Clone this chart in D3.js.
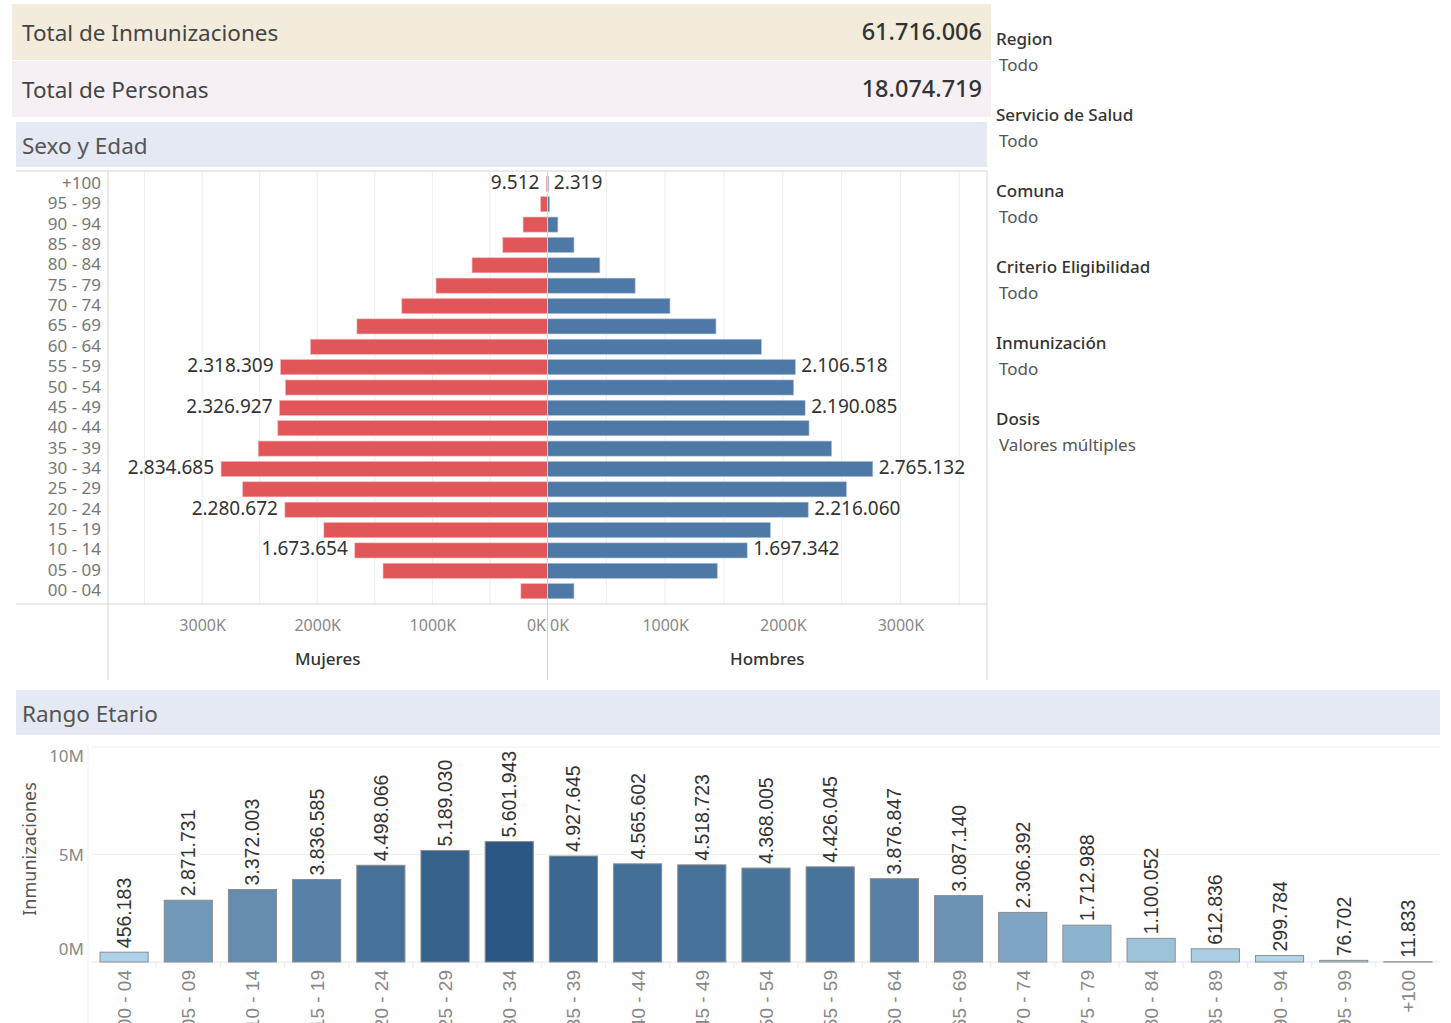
<!DOCTYPE html>
<html>
  <head>
    <meta charset="utf-8">
    <title>Inmunizaciones</title>
    <script src="https://d3js.org/d3.v7.min.js"></script>
    <style type="text/css">
      body { margin: 0; background: #fff; }
      text { font-family: "Noto Sans", "Open Sans", sans-serif; }
      .grid { stroke: #eeeeee; stroke-width: 1; }
      .frame { stroke: #d4d4d4; stroke-width: 1; fill: none; }
    </style>
  </head>
  <body>
    <script>
      var ages = ["00 - 04", "05 - 09", "10 - 14", "15 - 19", "20 - 24", "25 - 29", "30 - 34",
                  "35 - 39", "40 - 44", "45 - 49", "50 - 54", "55 - 59", "60 - 64", "65 - 69",
                  "70 - 74", "75 - 79", "80 - 84", "85 - 89", "90 - 94", "95 - 99", "+100"];
      var women = [231000, 1428000, 1673654, 1942000, 2280672, 2647000, 2834685, 2512000, 2342000, 2326927,
                   2276000, 2318309, 2058000, 1655000, 1265000, 968000, 655000, 388000, 212000, 59000, 9512];
      var men = [225000, 1443000, 1697342, 1894000, 2216060, 2541000, 2765132, 2415000, 2223000, 2190085,
                 2092000, 2106518, 1818000, 1432000, 1041000, 745000, 445000, 225000, 88000, 17000, 2319];
      var totals = [456183, 2871731, 3372003, 3836585, 4498066, 5189030, 5601943, 4927645, 4565602, 4518723,
                    4368005, 4426045, 3876847, 3087140, 2306392, 1712988, 1100052, 612836, 299784, 76702, 11833];
      var labelledAges = ["+100", "55 - 59", "45 - 49", "30 - 34", "20 - 24", "10 - 14"];
      var pyramidTicks = [0, 1000000, 2000000, 3000000];
      var barTicks = [0, 5000000, 10000000];
      var kpiNames = ["Total de Inmunizaciones", "Total de Personas"];
      var kpiValues = [61716006, 18074719];
      var filterNames = ["Region", "Servicio de Salud", "Comuna", "Criterio Eligibilidad", "Inmunización", "Dosis"];
      var filterValues = ["Todo", "Todo", "Todo", "Todo", "Todo", "Valores múltiples"];

      var es = d3.formatLocale({decimal: ",", thousands: ".", grouping: [3], currency: ["$", ""]});
      var fmt = es.format(",");

      var svg = d3.select("body").append("svg")
                  .attr("width", 1451)
                  .attr("height", 1023);

      // KPI header blocks
      var kpiFill = ["#f3ecdc", "#f6f0f5"];
      kpiNames.forEach(function(name, i) {
          var y0 = 4 + i * 57;
          svg.append("rect").attr("x", 12).attr("y", y0).attr("width", 979).attr("height", 56)
             .attr("fill", kpiFill[i]);
          svg.append("text").attr("x", 22).attr("y", y0 + 37)
             .attr("font-size", "22.5px").attr("fill", "#444").text(name);
          svg.append("text").attr("x", 982).attr("y", y0 + 36)
             .attr("text-anchor", "end").attr("font-size", "23.5px").attr("font-weight", 500)
             .attr("fill", "#333").text(fmt(kpiValues[i]));
      });

      // Filter list
      filterNames.forEach(function(name, i) {
          var y0 = 45 + i * 76;
          svg.append("text").attr("x", 996).attr("y", y0)
             .attr("font-size", "17px").attr("font-weight", 500).attr("fill", "#333").text(name);
          svg.append("text").attr("x", 999).attr("y", y0 + 26)
             .attr("font-size", "17px").attr("fill", "#555").text(filterValues[i]);
      });

      // Section headers
      function sectionHeader(x, y, w, h, title) {
          svg.append("rect").attr("x", x).attr("y", y).attr("width", w).attr("height", h)
             .attr("fill", "#e5e9f3");
          svg.append("text").attr("x", x + 6).attr("y", y + 32)
             .attr("font-size", "22.5px").attr("fill", "#555").text(title);
      }
      sectionHeader(16, 122, 971, 45, "Sexo y Edad");
      sectionHeader(16, 690, 1424, 45, "Rango Etario");

      // ---------- Population pyramid ----------
      var pTop = 171, pBottom = 604, pLeft = 108, pMid = 547.5, pRight = 987;

      var yAge = d3.scaleBand()
                   .domain(ages.slice().reverse())
                   .range([pTop, pBottom])
                   .padding(0.26);

      var xWomen = d3.scaleLinear().domain([0, 3817000]).range([pMid, pLeft]);
      var xMen = d3.scaleLinear().domain([0, 3736000]).range([pMid, pRight]);

      // gridlines every 500K
      var gridVals = d3.range(500000, 3800000, 500000);
      svg.append("g").selectAll("line").data(gridVals).enter().append("line")
         .attr("class", "grid")
         .attr("x1", function(d) { return xWomen(d); }).attr("x2", function(d) { return xWomen(d); })
         .attr("y1", pTop).attr("y2", pBottom);
      svg.append("g").selectAll("line").data(gridVals.filter(function(d) { return xMen(d) < pRight - 2; })).enter().append("line")
         .attr("class", "grid")
         .attr("x1", function(d) { return xMen(d); }).attr("x2", function(d) { return xMen(d); })
         .attr("y1", pTop).attr("y2", pBottom);

      // bars
      svg.append("g").selectAll("rect").data(ages).enter().append("rect")
         .attr("x", function(d, i) { return xWomen(women[i]); })
         .attr("y", function(d) { return yAge(d); })
         .attr("width", function(d, i) { return Math.max(1, pMid - xWomen(women[i])); })
         .attr("height", yAge.bandwidth())
         .attr("fill", "#e15759")
         .attr("stroke", "#f3b0b1").attr("stroke-width", 0.6);
      svg.append("g").selectAll("rect").data(ages).enter().append("rect")
         .attr("x", pMid)
         .attr("y", function(d) { return yAge(d); })
         .attr("width", function(d, i) { return Math.max(1, xMen(men[i]) - pMid); })
         .attr("height", yAge.bandwidth())
         .attr("fill", "#4e79a7")
         .attr("stroke", "#a9bfd6").attr("stroke-width", 0.6);

      // value labels
      ages.forEach(function(a, i) {
          if (labelledAges.indexOf(a) < 0) return;
          var yc = yAge(a) + yAge.bandwidth() / 2 + 5;
          svg.append("text").attr("x", xWomen(women[i]) - 7).attr("y", yc)
             .attr("text-anchor", "end").attr("font-size", "19px").attr("fill", "#333").text(fmt(women[i]));
          svg.append("text").attr("x", xMen(men[i]) + 6).attr("y", yc)
             .attr("text-anchor", "start").attr("font-size", "19px").attr("fill", "#333").text(fmt(men[i]));
      });

      // age labels
      svg.append("g").selectAll("text").data(ages).enter().append("text")
         .attr("x", 101)
         .attr("y", function(d) { return yAge(d) + yAge.bandwidth() / 2 + 5; })
         .attr("text-anchor", "end").attr("font-size", "17px").attr("fill", "#777")
         .text(function(d) { return d; });

      // frame lines
      svg.append("line").attr("class", "frame").attr("x1", 16).attr("x2", pRight).attr("y1", pTop).attr("y2", pTop);
      svg.append("line").attr("class", "frame").attr("x1", 16).attr("x2", pRight).attr("y1", pBottom).attr("y2", pBottom);
      svg.append("line").attr("class", "frame").attr("x1", pLeft).attr("x2", pLeft).attr("y1", pTop).attr("y2", 680);
      svg.append("line").attr("class", "frame").attr("x1", pMid).attr("x2", pMid).attr("y1", pTop).attr("y2", 680);
      svg.append("line").attr("class", "frame").attr("x1", pRight).attr("x2", pRight).attr("y1", pTop).attr("y2", 680);

      // pyramid axes
      function kFmt(d) { return (d / 1000) + "K"; }
      var axW = svg.append("g").attr("transform", "translate(0," + pBottom + ")")
                   .call(d3.axisBottom(xWomen).tickValues(pyramidTicks).tickFormat(kFmt).tickSize(0).tickPadding(16));
      var axM = svg.append("g").attr("transform", "translate(0," + pBottom + ")")
                   .call(d3.axisBottom(xMen).tickValues(pyramidTicks).tickFormat(kFmt).tickSize(0).tickPadding(16));
      [axW, axM].forEach(function(ax) {
          ax.select(".domain").remove();
          ax.selectAll("text").attr("font-size", "16px").attr("fill", "#888")
            .style("font-family", "'Noto Sans', sans-serif");
      });
      axW.selectAll(".tick").filter(function(d) { return d === 0; }).select("text")
         .attr("text-anchor", "end").attr("x", -2);
      axM.selectAll(".tick").filter(function(d) { return d === 0; }).select("text")
         .attr("text-anchor", "start").attr("x", 2);

      svg.append("text").attr("x", (pLeft + pMid) / 2).attr("y", 665).attr("text-anchor", "middle")
         .attr("font-size", "17px").attr("font-weight", 500).attr("fill", "#333").text("Mujeres");
      svg.append("text").attr("x", (pMid + pRight) / 2).attr("y", 665).attr("text-anchor", "middle")
         .attr("font-size", "17px").attr("font-weight", 500).attr("fill", "#333").text("Hombres");

      // ---------- Bar chart by age range ----------
      var bLeft = 92, bRight = 1440, bBase = 962;

      var xBand = d3.scaleBand()
                    .domain(ages)
                    .range([bLeft, bRight])
                    .paddingInner(0.25)
                    .paddingOuter(0.125);

      var yVal = d3.scaleLinear().domain([0, 10000000]).range([bBase, 747]);

      var colour = d3.scaleLinear()
                     .domain([0, d3.max(totals)])
                     .range(["#b9ddf1", "#2a5783"]);

      // gridlines + baseline
      svg.append("g").selectAll("line").data(barTicks).enter().append("line")
         .attr("x1", bLeft).attr("x2", bRight)
         .attr("y1", function(d) { return yVal(d); }).attr("y2", function(d) { return yVal(d); })
         .attr("stroke", function(d) { return d === 0 ? "#e4e4e4" : "#f0f0f0"; });
      svg.append("line").attr("x1", bLeft - 4).attr("x2", bLeft - 4).attr("y1", 745).attr("y2", 1023)
         .attr("stroke", "#f0f0f0");

      // band separators under the baseline
      svg.append("g").selectAll("line").data(ages.slice(1)).enter().append("line")
         .attr("x1", function(d) { return xBand(d) - xBand.step() * 0.125; })
         .attr("x2", function(d) { return xBand(d) - xBand.step() * 0.125; })
         .attr("y1", bBase).attr("y2", bBase + 6)
         .attr("stroke", "#ececec");

      svg.append("g").selectAll("rect").data(ages).enter().append("rect")
         .attr("x", function(d) { return xBand(d); })
         .attr("y", function(d, i) { return yVal(totals[i]); })
         .attr("width", xBand.bandwidth())
         .attr("height", function(d, i) { return bBase - yVal(totals[i]); })
         .attr("fill", function(d, i) { return colour(totals[i]); })
         .attr("stroke", "#8c8c8c").attr("stroke-width", 1);

      // value labels, rotated
      svg.append("g").selectAll("text").data(ages).enter().append("text")
         .attr("transform", function(d, i) {
             return "translate(" + (xBand(d) + xBand.bandwidth() / 2 + 7) + "," + (yVal(totals[i]) - 4) + ") rotate(-90)";
         })
         .attr("text-anchor", "start")
         .attr("font-size", "19.5px").attr("fill", "#333")
         .style("font-family", "'Liberation Sans', Arial, sans-serif")
         .text(function(d, i) { return fmt(totals[i]); });

      // y axis (edge labels nudged inward like the original)
      var yAx = svg.append("g").attr("transform", "translate(" + (bLeft - 8) + ",0)")
                   .call(d3.axisLeft(yVal).tickValues(barTicks).tickSize(0).tickPadding(0)
                           .tickFormat(function(d) { return (d / 1000000) + "M"; }));
      yAx.select(".domain").remove();
      yAx.selectAll("text").attr("font-size", "17px").attr("fill", "#888")
         .style("font-family", "'Noto Sans', sans-serif")
         .attr("dy", function(d) { return d === 0 ? "-0.45em" : (d === 10000000 ? "0.85em" : "0.35em"); });

      svg.append("text")
         .attr("transform", "translate(36,849) rotate(-90)")
         .attr("text-anchor", "middle").attr("font-size", "18px").attr("fill", "#555")
         .text("Inmunizaciones");

      // x axis labels, rotated (they run past the bottom edge, as in the original)
      svg.append("g").selectAll("text").data(ages).enter().append("text")
         .attr("transform", function(d) {
             return "translate(" + (xBand(d) + xBand.bandwidth() / 2 + 7) + "," + (bBase + 8) + ") rotate(-90)";
         })
         .attr("text-anchor", "end")
         .attr("font-size", "19px").attr("fill", "#888")
         .style("font-family", "'Liberation Sans', Arial, sans-serif")
         .text(function(d) { return d; });
    </script>
  </body>
</html>
